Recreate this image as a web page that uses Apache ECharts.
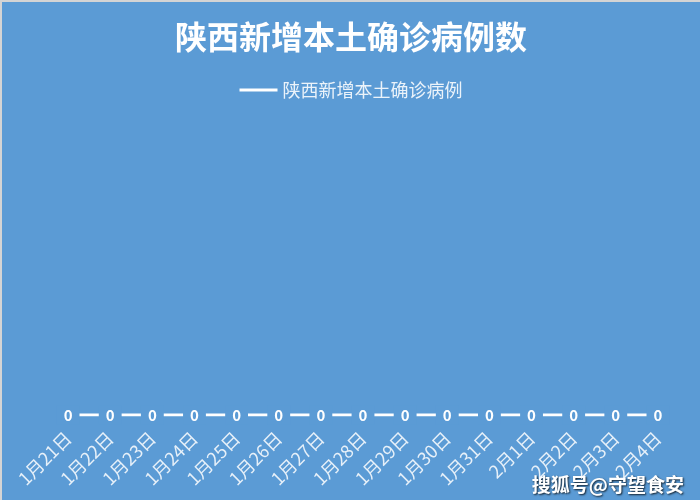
<!DOCTYPE html>
<html>
<head>
<meta charset="utf-8">
<script src="https://cdn.jsdelivr.net/npm/echarts@6/dist/echarts.min.js"></script>
<style>
html,body{margin:0;padding:0;background:#fff;}
#wrap{width:698px;height:498px;border-left:2px solid #d4d4d4;border-top:2px solid #d4d4d4;}
#main{width:698px;height:498px;}
</style>
</head>
<body>
<div id="wrap"><div id="main"></div></div>
<script>
const titleText = '陕西新增本土确诊病例数';
const seriesName = '陕西新增本土确诊病例';
const categories = ['1月21日','1月22日','1月23日','1月24日','1月25日','1月26日','1月27日','1月28日','1月29日','1月30日','1月31日','2月1日','2月2日','2月3日','2月4日'];
const values = [0,0,0,0,0,0,0,0,0,0,0,0,0,0,0];
const watermark = '搜狐号@守望食安';

const BG = '#5B9BD5';
const FONT = '"Noto Sans CJK SC", "Noto Sans", sans-serif';
const chart = echarts.init(document.getElementById('main'));
chart.setOption({
  backgroundColor: BG,
  animation: false,
  textStyle: {fontFamily: FONT},
  title: {
    text: titleText,
    left: 'center',
    top: 14,
    textStyle: {color: '#fff', fontSize: 32, fontWeight: 'bold', fontFamily: FONT}
  },
  legend: {
    top: 74,
    left: 'center',
    itemWidth: 38,
    itemHeight: 3,
    icon: 'rect',
    itemGap: 6,
    textStyle: {color: 'rgba(255,255,255,0.88)', fontSize: 18, fontFamily: FONT},
    data: [seriesName]
  },
  grid: {left: 45, right: 21, top: 100, bottom: 85},
  xAxis: {
    type: 'category',
    data: categories,
    boundaryGap: true,
    axisLine: {show: false},
    axisTick: {show: false},
    axisLabel: {
      rotate: 45,
      interval: 0,
      margin: 20,
      color: 'rgba(255,255,255,0.85)',
      fontSize: 18,
      fontFamily: FONT
    }
  },
  yAxis: {type: 'value', min: 0, max: 1, show: false},
  series: [{
    name: seriesName,
    type: 'line',
    data: values,
    symbol: 'circle',
    symbolSize: 1,
    showSymbol: true,
    itemStyle: {color: '#fff'},
    lineStyle: {color: '#fff', width: 3},
    label: {
      show: true,
      position: 'inside',
      color: '#fff',
      fontWeight: 'bold',
      fontSize: 15,
      fontFamily: FONT,
      backgroundColor: BG,
      padding: [2, 7]
    }
  }],
  graphic: [{
    type: 'text',
    right: 16,
    bottom: 6,
    style: {
      text: watermark,
      fill: '#fff',
      font: 'bold 19px ' + FONT,
      textShadowColor: 'rgba(0,0,0,0.8)',
      textShadowBlur: 2,
      textShadowOffsetX: 1,
      textShadowOffsetY: 1
    }
  }]
});
</script>
</body>
</html>
